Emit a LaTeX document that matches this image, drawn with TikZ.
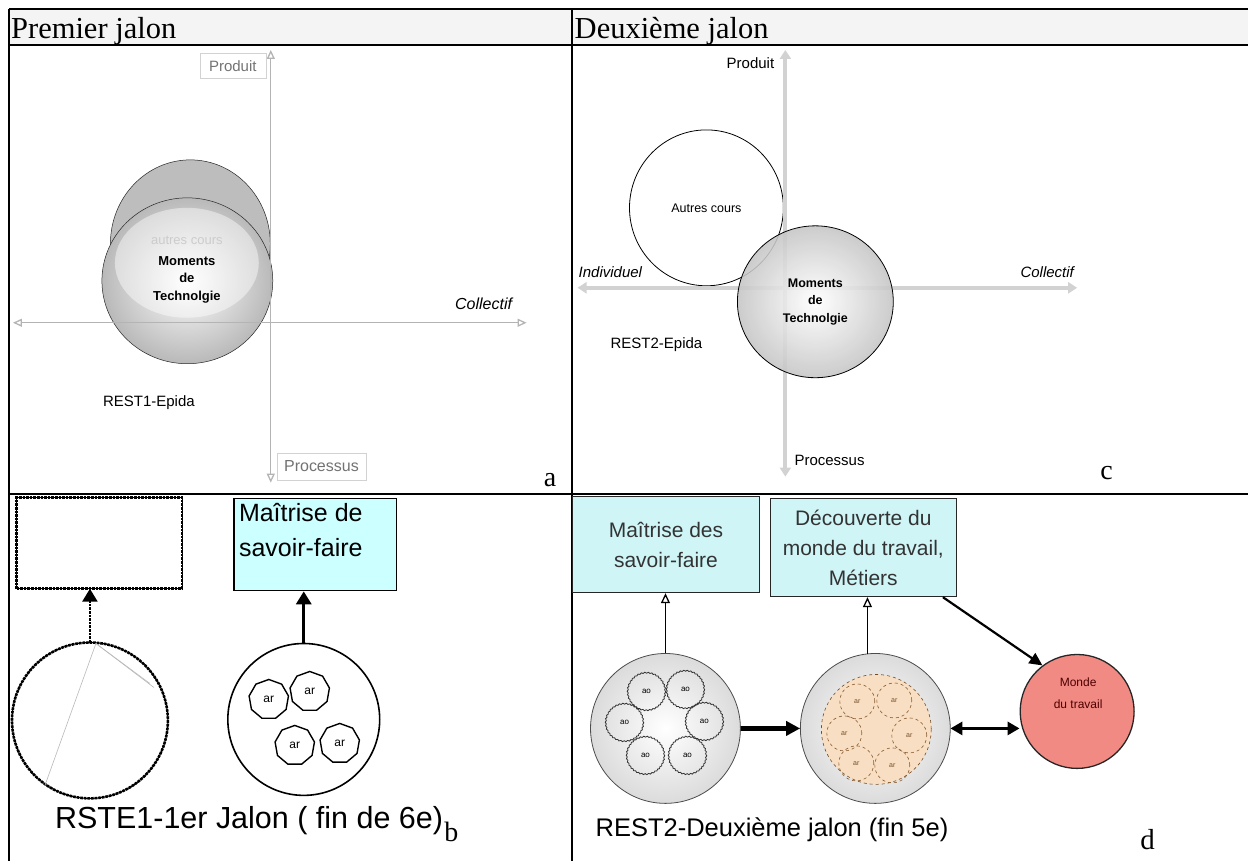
\documentclass[tikz,border=0pt]{standalone}
\usepackage{fontspec}
\setmainfont{Liberation Serif}
\setsansfont{Liberation Sans}
\usetikzlibrary{arrows.meta,shapes.geometric,decorations.pathmorphing}
\definecolor{cyanA}{HTML}{CCFFFF}
\definecolor{cyanB}{HTML}{CFF5F7}
\definecolor{salmonC}{HTML}{F28A84}
\definecolor{beigeC}{HTML}{F8DEC2}
\definecolor{hdrC}{HTML}{F4F4F4}
\definecolor{axAC}{HTML}{B4B4B4}
\definecolor{axCC}{HTML}{D2D2D2}
\begin{document}
\begin{tikzpicture}[x=1pt,y=-1pt,
  rule/.style={line width=2pt,black},
  lab/.style={font=\sffamily\fontsize{#1}{#1}\selectfont, inner sep=1pt},
  labi/.style={font=\sffamily\itshape\fontsize{#1}{#1}\selectfont, inner sep=1pt},
  mtext/.style={font=\sffamily\bfseries\fontsize{#1}{17.5}\selectfont, align=center, inner sep=0pt},
  serifl/.style={font=\rmfamily\fontsize{#1}{#1}\selectfont, inner sep=0pt},
  axa/.style={draw=axAC, line width=1.3pt, {Triangle[open,length=9pt,width=8pt]}-{Triangle[open,length=9pt,width=8pt]}},
  axc/.style={draw=axCC, line width=4pt, {Triangle[length=9pt,width=11pt]}-{Triangle[length=9pt,width=11pt]}},
  graybox/.style={draw=gray!35, fill=white, inner sep=0pt},
  dotline/.style={line width=2.6pt, densely dotted},
  arp/.style={regular polygon, regular polygon sides=9, draw, line width=1.4pt, minimum size=40pt, inner sep=0pt, font=\sffamily\fontsize{12}{12}\selectfont},
  dbox/.style={draw=black!85, line width=1.3pt, fill=cyanB, align=center, text=black!80, font=\sffamily\fontsize{21}{30}\selectfont, inner sep=0pt},
  aoc/.style={circle, draw=black!80, line width=0.8pt, minimum size=38pt, inner sep=0pt, font=\sffamily\fontsize{8}{8}\selectfont, decorate, decoration={bumps, segment length=7pt, amplitude=0.8pt}},
  arc/.style={circle, draw=brown!70!black, dashed, line width=0.6pt, minimum size=35pt, inner sep=0pt, text=brown!60!black, font=\sffamily\fontsize{7}{7}\selectfont},
  tipT/.style={-{Triangle[length=13pt,width=15pt]}}
]
% page and table
\fill[white] (0,0) rectangle (1249,862);
\fill[hdrC] (9,9) rectangle (1249,45);
\draw[rule] (9,9) -- (1249,9);
\draw[rule] (9,45) -- (1249,45);
\draw[rule] (9,9) -- (9,862);
\draw[rule] (572,9) -- (572,862);
\draw[rule] (9,494) -- (1249,494);
\node[serifl=30.5, anchor=base west] (h1) at (11,39) {Premier jalon};
\node[serifl=30.5, anchor=base west] (h2) at (575,39) {Deuxième jalon};

% ---------- panel a ----------
\coordinate (aN) at (271,50);
\coordinate (aS) at (271,483);
\coordinate (aW) at (13,323);
\coordinate (aE) at (527,323);
\fill[gray!52] (190.5,244) ellipse (80 and 84);
\draw[gray!30!black, line width=0.5pt] (190.5,244) ellipse (80 and 84);
\shade[inner color=white, outer color=gray!55] (187.5,281) ellipse (85.5 and 83);
\fill[white, opacity=0.45] (187,263) ellipse (72 and 55);
\draw[gray!30!black, line width=0.5pt] (187.5,281) ellipse (85.5 and 83);
\draw[axa] (aW) -- (aE);
\draw[axa] (aS) -- (aN);
\node[graybox, lab=15, text=black!55, minimum width=66pt, minimum height=25pt] (aP) at (233,66) {Produit};
\node[graybox, lab=16, text=black!55, minimum width=89pt, minimum height=27pt, anchor=north west] (aQ) at (277,453) {Processus};
\node[lab=13, text=gray!40] (aAu) at (187,241) {autres cours};
\node[mtext=13] (aM) at (187,280) {Moments\\de\\Technolgie};
\node[labi=16] (aC) at (484,304) {Collectif};
\node[lab=15] (aR) at (149,403) {REST1-Epida};
\node[serifl=28, anchor=base west] (aL) at (544,487) {a};

% ---------- panel c ----------
\coordinate (cN) at (786,50);
\coordinate (cS) at (786,477);
\coordinate (cW) at (578,288);
\coordinate (cE) at (1078,288);
\draw[line width=0.8pt, fill=white] (707,208) ellipse (77 and 78);
\draw[axc] (cW) -- (cE);
\draw[axc] (cS) -- (cN);
\shade[inner color=white, outer color=gray!45, opacity=0.88] (816,302) ellipse (78 and 76);
\draw[line width=0.8pt] (816,302) ellipse (78 and 76);
\node[lab=12.5] (cAu) at (707,208) {Autres cours};
\node[mtext=12.5] (cM) at (816,302) {Moments\\de\\Technolgie};
\node[lab=15, anchor=east] (cP) at (776,63) {Produit};
\node[labi=15, anchor=west] (cI) at (578,272) {Individuel};
\node[labi=15] (cC) at (1048,272) {Collectif};
\node[lab=15] (cR) at (657,345) {REST2-Epida};
\node[lab=15, anchor=west] (cQ) at (794,461) {Processus};
\node[serifl=28, anchor=base west] (cL) at (1101,480) {c};

% ---------- panel b ----------
\node[minimum width=165pt, minimum height=91pt, inner sep=0pt] (b0) at (99.5,543.5) {};
\draw[line width=1pt] (b0.south west) rectangle (b0.north east);
\draw[dotline] (b0.south west) rectangle (b0.north east);
\node[draw, line width=1.8pt, fill=cyanA, minimum width=163pt, minimum height=92pt, anchor=north west, inner sep=0pt] (b1) at (233,498) {};
\node[anchor=north west, align=left, font=\sffamily\fontsize{25}{35}\selectfont, inner sep=0pt] (b1t) at (239,504) {Maîtrise de\\savoir-faire};
\node[circle, minimum size=156pt, inner sep=0pt] (b2) at (90,721) {};
\draw[line width=1pt] (90,721) circle (78);
\draw[dotline] (90,721) circle (78);
\coordinate (g0) at (96,644);
\coordinate (g1) at (45,786);
\coordinate (g2) at (154,688);
\coordinate (g3) at (150,684);
\draw[gray!55, line width=0.6pt] (g0) -- (g1);
\draw[gray!55, line width=0.6pt] (g0) -- (g2);
\draw[gray!55, line width=0.6pt] (g0) -- (g3);
\draw[dotline, tipT] (b2.north) -- (b2.north |- b0.south);
\node[circle, draw, line width=1.6pt, minimum size=152pt, inner sep=0pt] (b3) at (304,720) {};
\draw[line width=3.2pt, tipT] (b3.north) -- (b3.north |- b1.south);
\node[arp] (r1) at (269,700) {ar};
\node[arp] (r2) at (310,692) {ar};
\node[arp] (r3) at (295,746) {ar};
\node[arp] (r4) at (340,744) {ar};
\node[anchor=base west, font=\sffamily\fontsize{30.5}{32}\selectfont, inner sep=0pt] (capb) at (55,829) {RSTE1-1er Jalon ( fin de 6e)};
\node[anchor=base west, serifl=28] (subb) at ([xshift=1pt,yshift=-13pt]capb.base east) {b};

% ---------- panel d ----------
\node[dbox, minimum width=187pt, minimum height=96pt] (d1) at (666.5,545) {Maîtrise des\\savoir-faire};
\node[dbox, minimum width=186pt, minimum height=98pt] (d2) at (864,548) {Découverte du\\monde du travail,\\Métiers};
\node[circle, minimum size=150pt, inner sep=0pt] (d3) at (666,729) {};
\shade[inner color=white, outer color=gray!28] (666,729) circle (75);
\draw[black!70, line width=0.8pt] (666,729) circle (75);
\node[aoc] (o1) at (647,692) {ao};
\node[aoc] (o2) at (686,690) {ao};
\node[aoc] (o3) at (625,723) {ao};
\node[aoc] (o4) at (705,722) {ao};
\node[aoc] (o5) at (646,756) {ao};
\node[aoc] (o6) at (688,756) {ao};
\node[circle, minimum size=150pt, inner sep=0pt] (d4) at (876,729) {};
\shade[inner color=white, outer color=gray!28] (876,729) circle (75);
\draw[black!70, line width=0.8pt] (876,729) circle (75);
\fill[beigeC] (877,730) circle (55);
\draw[brown!60!black, dashed, line width=0.6pt] (877,730) circle (55);
\node[arc] (s1) at (858,702) {ar};
\node[arc] (s2) at (895,701) {ar};
\node[arc] (s3) at (845,734) {ar};
\node[arc] (s4) at (910,736) {ar};
\node[arc] (s5) at (857,764) {ar};
\node[arc] (s6) at (893,766) {ar};
\node[circle, draw=black!85, line width=1.3pt, fill=salmonC, minimum size=114pt, inner sep=0pt] (d5) at (1078,712) {};
\node[align=center, text=red!30!black, font=\sffamily\fontsize{12}{22}\selectfont, inner sep=0pt] (d5t) at (1079,694) {Monde\\du travail};
\draw[line width=1.1pt, -{Triangle[open,length=10pt,width=9pt,line width=1.3pt]}] (d3.north) -- (d3.north |- d1.south);
\draw[line width=1.1pt, -{Triangle[open,length=10pt,width=9pt,line width=1.3pt]}] (d4.96) -- (d4.96 |- d2.south);
\draw[line width=2.2pt, -{Triangle[length=13pt,width=12pt]}] ([xshift=-14pt]d2.south east) -- (d5.127);
\draw[line width=4.5pt, -{Triangle[length=14pt,width=14pt]}] (d3.east) -- (d4.west);
\draw[line width=3pt, {Triangle[length=12pt,width=13pt]}-{Triangle[length=12pt,width=13pt]}] (d4.east) -- (d4.east -| d5.west);
\node[anchor=base west, font=\sffamily\fontsize{25.5}{27}\selectfont, inner sep=0pt] (capd) at (596,837) {REST2-Deuxième jalon (fin 5e)};
\node[anchor=base west, serifl=29] (dL) at (1141,850) {d};
\end{tikzpicture}
\end{document}
